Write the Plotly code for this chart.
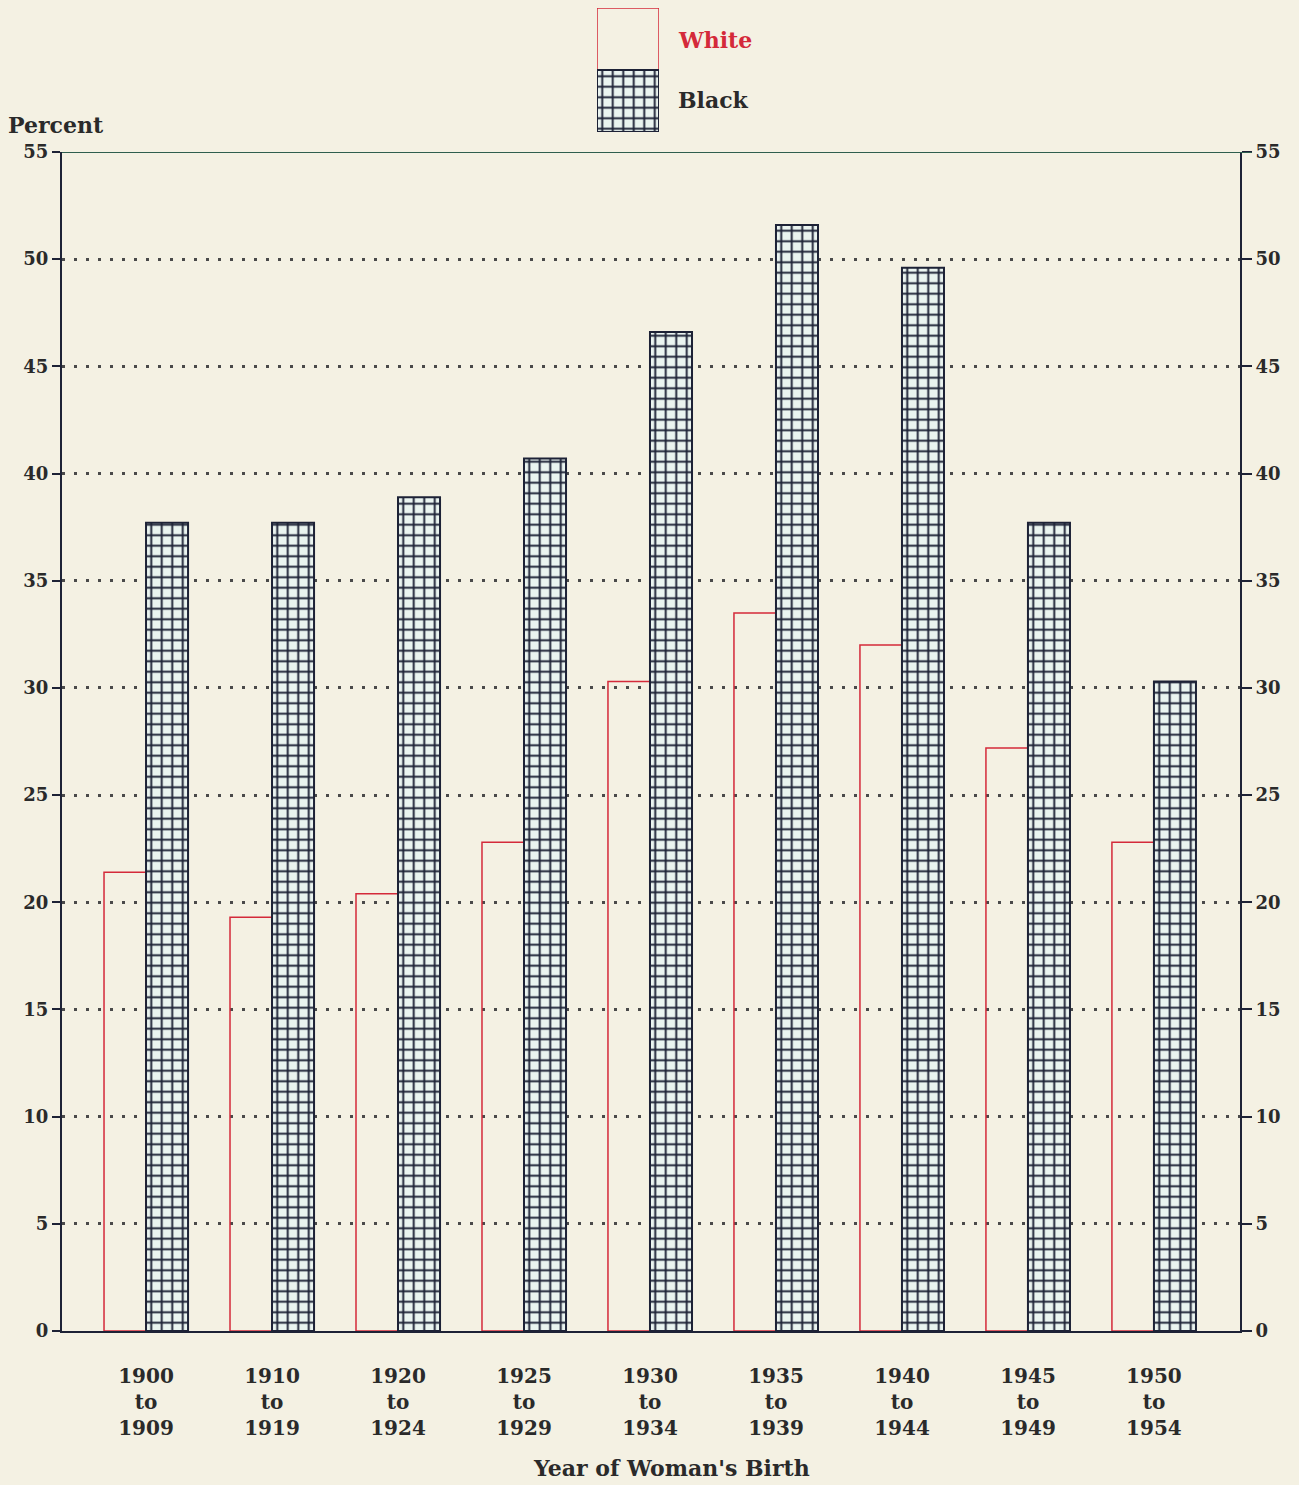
import plotly.graph_objects as go

categories = ["1900<br>to<br>1909", "1910<br>to<br>1919", "1920<br>to<br>1924",
              "1925<br>to<br>1929", "1930<br>to<br>1934", "1935<br>to<br>1939",
              "1940<br>to<br>1944", "1945<br>to<br>1949", "1950<br>to<br>1954"]
white = [21.4, 19.3, 20.4, 22.8, 30.3, 33.5, 32.0, 27.2, 22.8]
black = [37.7, 37.7, 38.9, 40.7, 46.6, 51.6, 49.6, 37.7, 30.3]
y_ticks = [0, 5, 10, 15, 20, 25, 30, 35, 40, 45, 50, 55]

BG = "#f4f1e3"
RED = "#d42a3a"
NAVY = "#1d2236"
CELL = "#eaf4f0"
INK = "#2a2a2a"
FONT = "DejaVu Serif"

W, H = 1299, 1485
ML, MR, MT, MB = 62, 59, 5, 154
PH = H - MT - MB
PW = W - ML - MR

def py(pix):  # pixel y -> paper y
    return (H - MB - pix) / PH

def px(pix):  # pixel x -> paper x
    return (pix - ML) / PW

xs = list(range(len(categories)))
pattern = dict(shape="+", size=10.5, solidity=0.33, fgcolor=NAVY, bgcolor=CELL, fillmode="replace")

fig = go.Figure()
fig.add_trace(go.Bar(x=xs, y=white, name="White", marker=dict(color="rgba(0,0,0,0)",
                     line=dict(color=RED, width=1.5)), showlegend=False))
fig.add_trace(go.Bar(x=xs, y=black, name="Black", marker=dict(color=CELL, pattern=pattern,
                     line=dict(color=NAVY, width=2)), showlegend=False))
# invisible trace for right axis
fig.add_trace(go.Scatter(x=[0], y=[0], yaxis="y3", mode="markers",
                         marker=dict(opacity=0), showlegend=False, hoverinfo="skip"))
# legend swatches
fig.add_trace(go.Bar(x=[0], y=[1], base=[1], width=[1], offset=-0.5, xaxis="x2", yaxis="y2",
                     marker=dict(color="rgba(0,0,0,0)", line=dict(color=RED, width=1.5)),
                     showlegend=False, hoverinfo="skip"))
fig.add_trace(go.Bar(x=[0], y=[1], base=[0], width=[1], offset=-0.5, xaxis="x2", yaxis="y2",
                     marker=dict(color=CELL, pattern=pattern, line=dict(color=NAVY, width=2)),
                     showlegend=False, hoverinfo="skip"))

ydom = [0, py(152)]
tickfont = dict(family=FONT, size=18, color=INK, weight="bold")

fig.update_layout(
    width=W, height=H,
    margin=dict(l=ML, r=MR, t=MT, b=MB, autoexpand=False),
    paper_bgcolor=BG, plot_bgcolor=BG,
    barmode="group", bargap=0.333, bargroupgap=0,
    xaxis=dict(range=[-0.667, 8.683], tickvals=xs, ticktext=categories,
               showgrid=False, zeroline=False, showline=True, linecolor=NAVY, linewidth=2,
               ticks="", ticklabelstandoff=26, automargin=False, layer="above traces",
               tickfont=dict(family=FONT, size=20, color=INK, weight="bold")),
    yaxis=dict(domain=ydom, range=[0, 55], tickvals=y_ticks, showline=True, linecolor=NAVY,
               linewidth=2, ticks="outside", ticklen=8, tickwidth=2, tickcolor=NAVY,
               showgrid=True, gridcolor="#4a4a4a", gridwidth=3, griddash="3px,9px",
               zeroline=False, tickfont=tickfont, automargin=False),
    yaxis3=dict(domain=ydom, range=[0, 55], tickvals=y_ticks, overlaying="y", side="right",
                showline=True, linecolor=NAVY, linewidth=2, ticks="outside", ticklen=10,
                tickwidth=2, tickcolor=NAVY, showgrid=False, zeroline=False, tickfont=tickfont,
                anchor="x", automargin=False),
    xaxis2=dict(domain=[px(597), px(659)], range=[-0.5, 0.5], visible=False, anchor="y2"),
    yaxis2=dict(domain=[py(132), py(8)], range=[0, 2], visible=False, anchor="x2"),
    font=dict(family=FONT, color=INK),
    showlegend=False,
)

fig.add_shape(type="line", xref="paper", yref="y", x0=0, x1=1.01, y0=55, y1=55,
              line=dict(color="#2e5e4e", width=2), layer="above")

ann_font = dict(family=FONT, size=22, color=INK, weight="bold")
fig.add_annotation(text="Percent", xref="paper", yref="paper", x=px(6), y=py(125),
                   xanchor="left", yanchor="middle", showarrow=False, font=ann_font)
fig.add_annotation(text="Year of Woman's Birth", xref="paper", yref="paper", x=px(671),
                   y=py(1468), xanchor="center", yanchor="middle", showarrow=False, font=ann_font)
fig.add_annotation(text="White", xref="paper", yref="paper", x=px(676), y=py(40),
                   xanchor="left", yanchor="middle", showarrow=False,
                   font=dict(family=FONT, size=22, color=RED, weight="bold"))
fig.add_annotation(text="Black", xref="paper", yref="paper", x=px(676), y=py(100),
                   xanchor="left", yanchor="middle", showarrow=False, font=ann_font)

fig.write_html("out.html", config={"displayModeBar": False},
               post_script="document.body.style.margin='0';document.body.style.background='%s';" % BG)
